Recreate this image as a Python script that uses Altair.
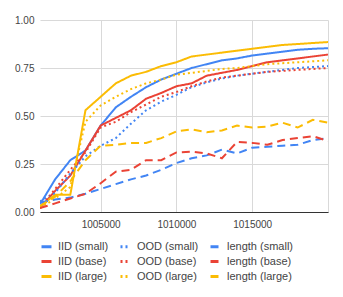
import altair as alt
import pandas as pd

steps = [1001000 + 1000 * k for k in range(20)]

iid_small = [0.04, 0.17, 0.27, 0.32, 0.45, 0.545, 0.60, 0.65, 0.69, 0.72, 0.75, 0.77, 0.79, 0.80, 0.815, 0.825, 0.835, 0.845, 0.85, 0.853]
ood_small = [0.055, 0.10, 0.20, 0.29, 0.345, 0.385, 0.46, 0.53, 0.575, 0.61, 0.65, 0.675, 0.695, 0.71, 0.72, 0.73, 0.74, 0.75, 0.755, 0.76]
len_small = [0.05, 0.065, 0.075, 0.095, 0.12, 0.145, 0.17, 0.19, 0.22, 0.255, 0.28, 0.295, 0.325, 0.305, 0.335, 0.34, 0.345, 0.35, 0.375, 0.385]
iid_base = [0.02, 0.11, 0.19, 0.32, 0.45, 0.49, 0.53, 0.59, 0.62, 0.655, 0.67, 0.71, 0.725, 0.74, 0.76, 0.78, 0.79, 0.80, 0.81, 0.82]
ood_base = [0.02, 0.12, 0.22, 0.31, 0.44, 0.47, 0.52, 0.56, 0.60, 0.625, 0.655, 0.68, 0.70, 0.71, 0.72, 0.73, 0.735, 0.74, 0.745, 0.75]
len_base = [0.02, 0.045, 0.07, 0.095, 0.15, 0.21, 0.22, 0.27, 0.27, 0.31, 0.315, 0.305, 0.28, 0.365, 0.36, 0.35, 0.375, 0.385, 0.395, 0.37]
iid_large = [0.03, 0.09, 0.09, 0.53, 0.60, 0.67, 0.71, 0.73, 0.76, 0.78, 0.81, 0.82, 0.83, 0.84, 0.85, 0.86, 0.87, 0.875, 0.88, 0.885]
ood_large = [0.02, 0.07, 0.13, 0.47, 0.555, 0.60, 0.64, 0.67, 0.69, 0.715, 0.725, 0.735, 0.745, 0.75, 0.76, 0.77, 0.775, 0.78, 0.785, 0.79]
len_large = [0.03, 0.08, 0.16, 0.27, 0.345, 0.35, 0.36, 0.36, 0.385, 0.42, 0.43, 0.415, 0.425, 0.45, 0.44, 0.445, 0.465, 0.44, 0.48, 0.465]

# legend order (filled column by column: IID, OOD, length)
series_names = ["IID (small)", "IID (base)", "IID (large)",
                "OOD (small)", "OOD (base)", "OOD (large)",
                "length (small)", "length (base)", "length (large)"]
series_values = [iid_small, iid_base, iid_large,
                 ood_small, ood_base, ood_large,
                 len_small, len_base, len_large]
colors = ["#4285F4", "#EA4335", "#FBBC04"] * 3
dashes = [[1, 0]] * 3 + [[2, 3]] * 3 + [[8, 5]] * 3

rows = []
for name, vals in zip(series_names, series_values):
    for s, v in zip(steps, vals):
        rows.append({"step": s, "value": v, "series": name})
df = pd.DataFrame(rows)

font = "Liberation Sans"

chart = alt.Chart(df).mark_line(strokeWidth=2, clip=True).encode(
    x=alt.X("step:Q", scale=alt.Scale(domain=[1001000, 1020000], nice=False, zero=False),
            axis=alt.Axis(values=[1005000, 1010000, 1015000, 1020000], format="d",
                          labelExpr="datum.value == 1020000 ? '' : datum.label",
                          title=None, tickSize=0, labelPadding=7, domainColor="#333",
                          domainWidth=1, gridColor="#d9d9d9", labelFontSize=10,
                          labelColor="#444", labelFont=font)),
    y=alt.Y("value:Q", scale=alt.Scale(domain=[0, 1], nice=False),
            axis=alt.Axis(values=[0, 0.25, 0.5, 0.75, 1.0], format=".2f", title=None,
                          tickSize=0, labelPadding=6, domain=False, gridColor="#d9d9d9",
                          labelFontSize=10, labelColor="#444", labelFont=font)),
    color=alt.Color("series:N", scale=alt.Scale(domain=series_names, range=colors),
                    sort=series_names,
                    legend=alt.Legend(title=None, orient="none", legendX=0, legendY=220,
                                      columns=3, symbolType="stroke", symbolStrokeWidth=3,
                                      symbolSize=100, labelFontSize=11, labelFont=font,
                                      labelColor="#444", columnPadding=5, rowPadding=2,
                                      padding=0, symbolOffset=0, labelOffset=5)),
    strokeDash=alt.StrokeDash("series:N", scale=alt.Scale(domain=series_names, range=dashes),
                              sort=series_names, legend=None),
).properties(
    width=288, height=192,
    autosize=alt.AutoSizeParams(type="none"),
    padding={"left": 32, "top": 12, "right": 7, "bottom": 77},
).configure_view(stroke=None)

chart.save("out.html", embed_options={"renderer": "svg", "actions": False})
